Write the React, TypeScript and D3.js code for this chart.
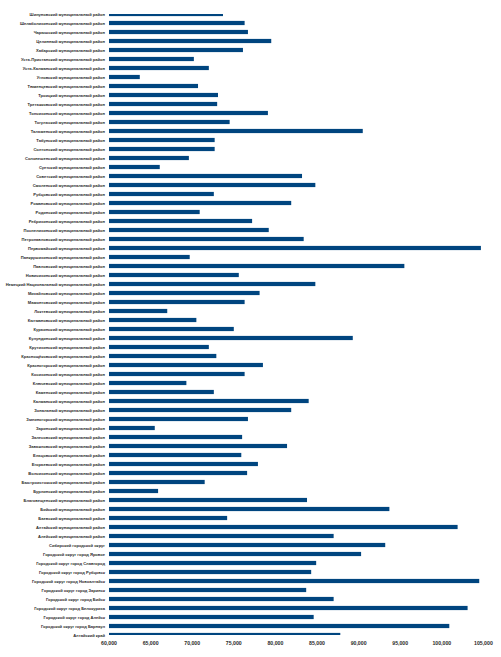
import React from "react";
import * as d3 from "d3";

const categories: string[] = [
  "Шипуновский муниципальный район",
  "Шелаболихинский муниципальный район",
  "Чарышский муниципальный район",
  "Целинный муниципальный район",
  "Хабарский муниципальный район",
  "Усть-Пристанский муниципальный район",
  "Усть-Калманский муниципальный район",
  "Угловский муниципальный район",
  "Тюменцевский муниципальный район",
  "Троицкий муниципальный район",
  "Третьяковский муниципальный район",
  "Топчихинский муниципальный район",
  "Тогульский муниципальный район",
  "Тальменский муниципальный район",
  "Табунский муниципальный район",
  "Солтонский муниципальный район",
  "Солонешенский муниципальный район",
  "Суетский муниципальный район",
  "Советский муниципальный район",
  "Смоленский муниципальный район",
  "Рубцовский муниципальный район",
  "Романовский муниципальный район",
  "Родинский муниципальный район",
  "Ребрихинский муниципальный район",
  "Поспелихинский муниципальный район",
  "Петропавловский муниципальный район",
  "Первомайский муниципальный район",
  "Панкрушихинский муниципальный район",
  "Павловский муниципальный район",
  "Новичихинский муниципальный район",
  "Немецкий Национальный муниципальный район",
  "Михайловский муниципальный район",
  "Мамонтовский муниципальный район",
  "Локтевский муниципальный район",
  "Кытмановский муниципальный район",
  "Курьинский муниципальный район",
  "Кулундинский муниципальный район",
  "Крутихинский муниципальный район",
  "Краснощёковский муниципальный район",
  "Красногорский муниципальный район",
  "Косихинский муниципальный район",
  "Ключевский муниципальный район",
  "Каменский муниципальный район",
  "Калманский муниципальный район",
  "Зональный муниципальный район",
  "Змеиногорский муниципальный район",
  "Заринский муниципальный район",
  "Залесовский муниципальный район",
  "Завьяловский муниципальный район",
  "Ельцовский муниципальный район",
  "Егорьевский муниципальный район",
  "Волчихинский муниципальный район",
  "Быстроистокский муниципальный район",
  "Бурлинский муниципальный район",
  "Благовещенский муниципальный район",
  "Бийский муниципальный район",
  "Баевский муниципальный район",
  "Алтайский муниципальный район",
  "Алейский муниципальный район",
  "Сибирский городской округ",
  "Городской округ город Яровое",
  "Городской округ город Славгород",
  "Городской округ город Рубцовск",
  "Городской округ город Новоалтайск",
  "Городской округ город Заринск",
  "Городской округ город Бийск",
  "Городской округ город Белокуриха",
  "Городской округ город Алейск",
  "Городской округ город Барнаул",
  "Алтайский край",
];

const values: number[] = [
  73700, 76300, 76700, 79500, 76100, 70200, 72000, 63700, 70700, 73100,
  73000, 79100, 74500, 90500, 72700, 72700, 69600, 66100, 83200, 84800,
  72600, 81900, 70900, 77200, 79200, 83400, 104700, 69700, 95500, 75600,
  84800, 78100, 76300, 67000, 70500, 75000, 89300, 72000, 72900, 78500,
  76300, 69300, 72600, 84000, 81900, 76700, 65500, 76000, 81400, 75900,
  77900, 76600, 71500, 65900, 83800, 93700, 74200, 101900, 87000, 93200,
  90300, 84900, 84300, 104500, 83700, 87000, 103100, 84600, 100900, 87800,
];

const xTicks: number[] = [60000, 65000, 70000, 75000, 80000, 85000, 90000, 95000, 100000, 105000];

const W = 501;
const H = 657;
const BAR_COLOR = "#00457f";

export default function App() {
  const x = d3.scaleLinear().domain([60000, 105000]).range([109, 483.4]);
  const y = d3.scaleBand<string>().domain(categories).range([9.5, 9.5 + categories.length * 9]).padding(0);
  const bw = y.bandwidth();
  const barH = 4.2;
  const fmt = d3.format(",");
  const font = "'Liberation Sans', Arial, sans-serif";

  return (
    <svg
      width={W}
      height={H}
      style={{ position: "absolute", left: 0, top: 0, background: "#fff" }}
      fontFamily={font}
    >
      <defs>
        <clipPath id="plotClip">
          <rect x={0} y={14} width={W} height={621} />
        </clipPath>
      </defs>
      <g clipPath="url(#plotClip)">
        {categories.map((c, i) => (
          <rect
            key={c}
            x={x(60000)}
            y={(y(c) as number) + (bw - barH) / 2}
            width={x(values[i]) - x(60000)}
            height={barH}
            fill={BAR_COLOR}
          />
        ))}
      </g>
      <g>
        {categories.map((c) => (
          <text
            key={c}
            x={105}
            y={(y(c) as number) + bw / 2}
            textAnchor="end"
            dominantBaseline="central"
            fontSize={4.05}
            fontWeight="bold"
            fill="#2a2a2a"
          >
            {c}
          </text>
        ))}
      </g>
      <g>
        {xTicks.map((t) => (
          <text
            key={t}
            x={x(t)}
            y={642.5}
            textAnchor="middle"
            dominantBaseline="central"
            fontSize={5.2}
            fontWeight="bold"
            fill="#2a2a2a"
          >
            {fmt(t)}
          </text>
        ))}
      </g>
    </svg>
  );
}
